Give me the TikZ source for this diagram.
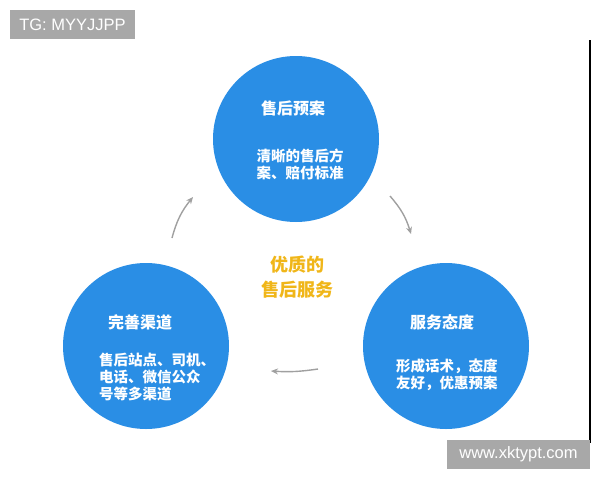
\documentclass[tikz,border=0pt]{standalone}
\usepackage{fontspec}
\setmainfont{Liberation Sans}
\newfontfamily\cjk{Noto Sans CJK SC}
\usetikzlibrary{arrows.meta}

\definecolor{bubbleblue}{HTML}{2A8EE5}
\definecolor{hubgold}{HTML}{F0B619}
\definecolor{flowgray}{HTML}{A0A0A0}
\definecolor{taggray}{HTML}{A8A8A8}

\begin{document}
\begin{tikzpicture}[x=1pt,y=-1pt,
  bubble/.style={circle,fill=bubbleblue,minimum size=166pt,inner sep=0pt},
  title/.style={text=white,font=\cjk\bfseries\fontsize{16}{18}\selectfont},
  detail/.style={text=white,align=left,inner sep=0pt,font=\cjk\bfseries\fontsize{14.5}{17}\selectfont},
  flow/.style={draw=flowgray,line width=1.4pt,-{Stealth[length=7pt,width=6pt]}},
  tag/.style={fill=taggray,text=white,inner sep=0pt,minimum height=29pt,font=\fontsize{16.5}{16.5}\selectfont}]

\useasboundingbox (0,0) rectangle (600,480);

% ---------------- CIRCLES ----------------

\node[bubble] (P) at (296,139) {};
\node[bubble] (Q) at (446,346) {};
\node[bubble] (R) at (146,346) {};

\node[title] (P1) at (293,108) {售后预案};
\node[detail] (P2) at (300,164) {清晰的售后方\\案、赔付标准};

\node[title] (Q1) at (442,322) {服务态度};
\node[detail,anchor=west] (Q2) at (396,375) {形成话术，态度\\友好，优惠预案};

\node[title] (R1) at (140,322) {完善渠道};
\node[detail,anchor=west] (R2) at (99,377) {售后站点、司机、\\电话、微信公众\\号等多渠道};

% ---------------- CENTRE ----------------

\node[text=hubgold,align=center,font=\cjk\bfseries\fontsize{18}{25}\selectfont] (H) at (297,277) {优质的\\售后服务};

% ---------------- ARROWS ----------------

\coordinate (a1) at (390,196);
\coordinate (a2) at (411,234);
\coordinate (b1) at (318,369);
\coordinate (b2) at (271,371);
\coordinate (c1) at (172,238);
\coordinate (c2) at (193,197);

\draw[flow] (a1) to[bend left=12] (a2);
\draw[flow] (b1) to[bend left=6] (b2);
\draw[flow] (c1) to[bend left=12] (c2);

% ---------------- MARKS ----------------

\draw[line width=1.6pt] (590,40) -- (590,443);
\node[tag,minimum width=125pt] (T1) at (72.5,24.5) {TG: MYYJJPP};
\node[tag,minimum width=143pt] (T2) at (518.5,454.5) {www.xktypt.com};

\end{tikzpicture}
\end{document}
